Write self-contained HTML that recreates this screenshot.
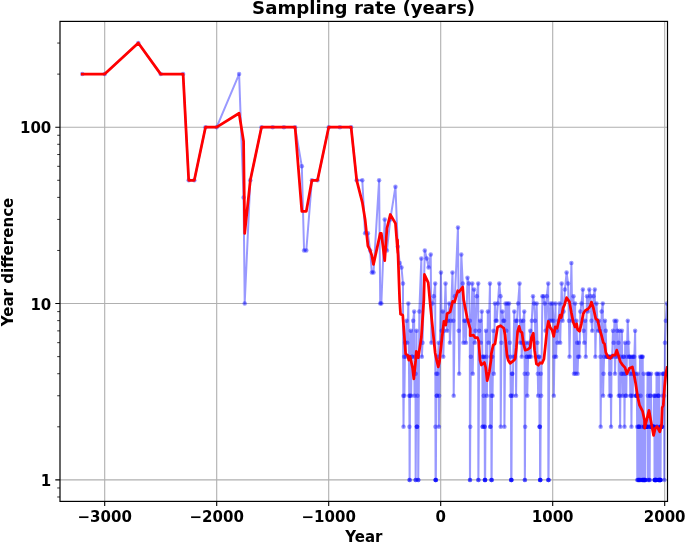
<!DOCTYPE html>
<html><head><meta charset="utf-8"><title>Sampling rate (years)</title>
<style>html,body{margin:0;padding:0;background:#fff;overflow:hidden}body{width:685px;height:542px;position:relative}</style>
</head><body>
<svg width="685" height="542" viewBox="0 0 685 542" style="position:absolute;left:0;top:0;font-family:'DejaVu Sans','Liberation Sans',sans-serif;font-weight:bold">
<rect width="685" height="542" fill="#fff"/>
<defs><clipPath id="c"><rect x="60.0" y="21.4" width="607.5" height="480.0"/></clipPath></defs>
<path d="M104.70 21.4V501.4M216.70 21.4V501.4M328.70 21.4V501.4M440.70 21.4V501.4M552.70 21.4V501.4M664.70 21.4V501.4M60.0 479.90H667.5M60.0 303.55H667.5M60.0 127.20H667.5" stroke="#b0b0b0" stroke-width="1.1" fill="none"/>
<g clip-path="url(#c)">
<polyline points="82.30,74.11 104.70,74.11 138.30,43.06 160.70,74.11 183.10,74.11 188.70,180.29 194.30,180.29 205.50,127.20 216.70,127.20 239.10,74.11 243.58,197.38 244.70,303.55 250.30,180.29 261.50,127.20 272.70,127.20 283.90,127.20 295.10,127.20 301.82,166.32 304.06,250.46 306.30,250.46 311.90,180.29 317.50,180.29 328.70,127.20 339.90,127.20 351.10,127.20 356.70,180.29 362.30,180.29 365.10,233.37 367.90,233.37 370.14,250.46 371.82,272.50 373.50,272.50 379.10,180.29 380.22,303.55 381.34,303.55 384.70,219.41 386.94,250.46 390.30,219.41 395.45,186.67 397.80,246.73 399.71,262.91 401.50,267.55 402.96,283.46 403.29,395.76 403.52,426.81 404.08,356.64 404.41,395.76 405.08,342.67 405.64,356.64 406.54,320.64 407.21,342.67 408.33,303.55 408.89,356.64 409.23,395.76 409.45,426.81 409.56,479.90 409.68,479.90 410.01,395.76 410.80,330.87 411.13,395.76 411.69,356.64 412.25,356.64 413.15,320.64 414.16,311.62 414.49,395.76 415.05,356.64 415.50,373.73 415.61,479.90 415.72,479.90 416.51,330.87 416.73,426.81 416.96,426.81 417.18,426.81 417.52,395.76 418.08,356.64 418.19,479.90 418.30,479.90 419.31,311.62 421.32,258.53 421.88,356.64 422.56,342.67 424.80,250.46 426.81,258.53 428.60,267.55 430.73,254.39 431.40,342.67 432.52,303.55 433.76,296.25 435.21,283.46 435.44,426.81 435.55,479.90 435.66,479.90 435.77,479.90 435.88,479.90 436.33,373.73 436.67,395.76 437.00,395.76 437.45,373.73 438.01,356.64 438.68,342.67 438.91,426.81 439.24,395.76 440.92,272.50 441.71,330.87 442.72,311.62 443.28,356.64 444.06,330.87 445.52,283.46 446.41,320.64 447.20,330.87 448.09,320.64 449.21,303.55 449.88,342.67 450.78,320.64 452.46,272.50 453.36,320.64 453.69,395.76 454.92,296.25 457.95,227.48 458.73,330.87 459.18,373.73 461.31,254.39 462.76,283.46 463.44,342.67 464.33,320.64 465.23,320.64 465.90,342.67 467.47,277.78 468.92,283.46 469.82,320.64 469.93,479.90 470.04,479.90 470.27,426.81 470.83,356.64 472.28,283.46 472.73,373.73 474.08,289.59 474.75,342.67 475.53,330.87 476.76,296.25 478.22,283.46 478.33,479.90 478.44,479.90 479.23,330.87 480.12,320.64 480.80,342.67 481.80,311.62 482.36,356.64 482.59,426.81 482.81,426.81 483.37,356.64 483.71,395.76 484.27,356.64 484.49,426.81 484.72,426.81 484.83,479.90 484.94,479.90 485.05,479.90 485.16,479.90 485.95,330.87 486.51,356.64 486.84,395.76 487.85,311.62 488.52,342.67 489.98,283.46 490.20,426.81 490.43,426.81 490.99,356.64 491.32,395.76 491.44,479.90 491.55,479.90 491.66,479.90 492.22,356.64 492.56,395.76 493.34,330.87 493.79,373.73 494.91,303.55 495.80,320.64 496.70,320.64 497.82,303.55 499.28,283.46 500.51,296.25 500.73,426.81 501.40,342.67 502.41,311.62 503.31,320.64 504.20,320.64 504.43,426.81 505.55,303.55 506.33,330.87 507.45,303.55 508.01,356.64 509.13,303.55 509.80,342.67 510.36,356.64 510.70,395.76 511.04,395.76 511.15,479.90 511.26,479.90 511.37,479.90 511.48,479.90 511.93,373.73 512.38,373.73 512.72,395.76 513.28,356.64 514.28,311.62 514.84,356.64 515.74,320.64 516.08,395.76 516.97,320.64 518.09,303.55 519.55,283.46 520.22,342.67 521.12,320.64 521.68,356.64 522.35,342.67 523.24,320.64 524.25,311.62 524.70,373.73 524.81,479.90 524.92,479.90 525.15,426.81 525.82,342.67 526.38,356.64 526.94,356.64 527.28,395.76 527.72,373.73 528.40,342.67 528.96,356.64 529.52,356.64 530.30,330.87 530.86,356.64 531.76,320.64 532.99,296.25 534.11,303.55 535.00,320.64 535.56,356.64 536.68,303.55 537.36,342.67 537.80,373.73 538.14,395.76 538.70,356.64 539.26,356.64 539.48,426.81 539.71,426.81 539.93,426.81 540.04,479.90 540.16,479.90 540.27,479.90 540.38,479.90 540.83,373.73 541.16,395.76 542.40,296.25 543.63,296.25 544.75,303.55 545.53,330.87 546.76,296.25 548.22,283.46 548.33,479.90 548.44,479.90 548.56,479.90 549.45,320.64 550.57,303.55 551.47,320.64 552.59,303.55 553.48,320.64 553.82,395.76 554.38,356.64 555.50,303.55 556.06,356.64 556.84,330.87 557.52,342.67 558.41,320.64 559.53,303.55 560.20,342.67 561.66,283.46 562.56,320.64 563.56,311.62 564.91,289.59 566.59,272.50 568.04,283.46 568.94,320.64 569.50,356.64 571.40,262.91 572.30,320.64 573.53,296.25 573.98,373.73 575.10,303.55 575.55,373.73 576.44,320.64 577.12,342.67 577.56,373.73 578.12,356.64 578.80,342.67 579.36,356.64 580.36,311.62 581.48,303.55 582.83,289.59 583.61,330.87 584.28,342.67 585.18,320.64 585.74,356.64 586.97,296.25 587.98,311.62 589.32,289.59 590.56,296.25 591.45,320.64 592.24,330.87 593.47,296.25 594.81,289.59 595.37,356.64 596.49,303.55 597.39,320.64 598.17,330.87 599.07,320.64 599.85,330.87 600.41,356.64 600.64,426.81 601.64,311.62 602.76,303.55 603.10,395.76 603.55,373.73 604.11,356.64 605.00,320.64 605.79,330.87 606.35,356.64 606.91,356.64 607.47,356.64 608.03,356.64 608.59,356.64 609.15,356.64 609.48,395.76 609.93,373.73 610.49,356.64 610.83,395.76 611.05,426.81 611.61,356.64 612.17,356.64 612.96,330.87 613.63,342.67 614.52,320.64 614.97,373.73 615.53,356.64 616.43,320.64 617.21,330.87 617.77,356.64 618.44,342.67 618.78,395.76 619.56,330.87 619.90,395.76 620.12,426.81 620.68,356.64 621.13,373.73 621.92,330.87 622.36,373.73 622.70,395.76 623.26,356.64 623.82,356.64 624.27,373.73 624.49,426.81 625.16,342.67 625.50,395.76 625.95,373.73 626.28,395.76 626.84,356.64 627.74,320.64 628.41,342.67 628.97,356.64 629.53,356.64 629.98,373.73 630.32,395.76 630.88,356.64 631.21,395.76 631.44,426.81 631.88,373.73 632.44,356.64 632.78,395.76 633.34,356.64 633.79,373.73 634.35,356.64 635.13,330.87 635.58,373.73 635.92,395.76 636.25,395.76 636.59,395.76 636.92,395.76 637.15,426.81 637.26,479.90 637.71,373.73 637.82,479.90 638.16,395.76 638.38,426.81 638.49,479.90 638.72,426.81 638.83,479.90 639.05,426.81 639.16,479.90 639.28,479.90 639.50,426.81 640.06,356.64 640.17,479.90 640.28,479.90 640.62,395.76 641.18,356.64 641.40,426.81 641.52,479.90 642.08,356.64 642.19,479.90 642.75,356.64 642.86,479.90 642.97,479.90 643.08,479.90 643.20,479.90 643.64,373.73 643.76,479.90 643.98,426.81 644.20,426.81 644.32,479.90 644.54,426.81 644.65,479.90 644.76,479.90 644.88,479.90 645.10,426.81 645.21,479.90 645.32,479.90 645.55,426.81 645.77,426.81 646.00,426.81 646.22,426.81 646.44,426.81 646.67,426.81 646.89,426.81 647.12,426.81 647.56,373.73 647.90,395.76 648.01,479.90 648.46,373.73 648.57,479.90 648.80,426.81 649.24,373.73 649.36,479.90 649.58,426.81 649.69,479.90 650.03,395.76 650.36,395.76 650.59,426.81 651.04,373.73 651.26,426.81 651.48,426.81 651.71,426.81 651.93,426.81 652.16,426.81 652.38,426.81 652.60,426.81 652.83,426.81 653.05,426.81 653.28,426.81 653.50,426.81 653.72,426.81 654.06,395.76 654.40,395.76 654.51,479.90 654.62,479.90 654.84,426.81 654.96,479.90 655.07,479.90 655.18,479.90 655.29,479.90 655.40,479.90 655.74,395.76 655.85,479.90 655.96,479.90 656.08,479.90 656.52,373.73 656.64,479.90 656.86,426.81 657.08,426.81 657.53,373.73 657.87,395.76 658.20,395.76 658.32,479.90 658.43,479.90 658.54,479.90 658.88,395.76 659.32,373.73 659.44,479.90 659.55,479.90 659.66,479.90 659.77,479.90 659.88,479.90 660.11,426.81 660.22,479.90 660.33,479.90 660.44,479.90 660.56,479.90 660.78,426.81 661.00,426.81 661.23,426.81 661.45,426.81 661.68,426.81 661.90,426.81 662.12,426.81 662.57,373.73 662.91,395.76 663.36,373.73 663.80,373.73 664.14,395.76 664.25,479.90 664.92,342.67 665.82,320.64 666.94,303.55" fill="none" stroke="#0000ff" stroke-opacity="0.4" stroke-width="2.0" stroke-linejoin="round"/>
<g fill="#0000ff" fill-opacity="0.4">
<circle cx="82.30" cy="74.11" r="2.25"/>
<circle cx="104.70" cy="74.11" r="2.25"/>
<circle cx="138.30" cy="43.06" r="2.25"/>
<circle cx="160.70" cy="74.11" r="2.25"/>
<circle cx="183.10" cy="74.11" r="2.25"/>
<circle cx="188.70" cy="180.29" r="2.25"/>
<circle cx="194.30" cy="180.29" r="2.25"/>
<circle cx="205.50" cy="127.20" r="2.25"/>
<circle cx="216.70" cy="127.20" r="2.25"/>
<circle cx="239.10" cy="74.11" r="2.25"/>
<circle cx="243.58" cy="197.38" r="2.25"/>
<circle cx="244.70" cy="303.55" r="2.25"/>
<circle cx="250.30" cy="180.29" r="2.25"/>
<circle cx="261.50" cy="127.20" r="2.25"/>
<circle cx="272.70" cy="127.20" r="2.25"/>
<circle cx="283.90" cy="127.20" r="2.25"/>
<circle cx="295.10" cy="127.20" r="2.25"/>
<circle cx="301.82" cy="166.32" r="2.25"/>
<circle cx="304.06" cy="250.46" r="2.25"/>
<circle cx="306.30" cy="250.46" r="2.25"/>
<circle cx="311.90" cy="180.29" r="2.25"/>
<circle cx="317.50" cy="180.29" r="2.25"/>
<circle cx="328.70" cy="127.20" r="2.25"/>
<circle cx="339.90" cy="127.20" r="2.25"/>
<circle cx="351.10" cy="127.20" r="2.25"/>
<circle cx="356.70" cy="180.29" r="2.25"/>
<circle cx="362.30" cy="180.29" r="2.25"/>
<circle cx="365.10" cy="233.37" r="2.25"/>
<circle cx="367.90" cy="233.37" r="2.25"/>
<circle cx="370.14" cy="250.46" r="2.25"/>
<circle cx="371.82" cy="272.50" r="2.25"/>
<circle cx="373.50" cy="272.50" r="2.25"/>
<circle cx="379.10" cy="180.29" r="2.25"/>
<circle cx="380.22" cy="303.55" r="2.25"/>
<circle cx="381.34" cy="303.55" r="2.25"/>
<circle cx="384.70" cy="219.41" r="2.25"/>
<circle cx="386.94" cy="250.46" r="2.25"/>
<circle cx="390.30" cy="219.41" r="2.25"/>
<circle cx="395.45" cy="186.67" r="2.25"/>
<circle cx="397.80" cy="246.73" r="2.25"/>
<circle cx="399.71" cy="262.91" r="2.25"/>
<circle cx="401.50" cy="267.55" r="2.25"/>
<circle cx="402.96" cy="283.46" r="2.25"/>
<circle cx="403.29" cy="395.76" r="2.25"/>
<circle cx="403.52" cy="426.81" r="2.25"/>
<circle cx="404.08" cy="356.64" r="2.25"/>
<circle cx="404.41" cy="395.76" r="2.25"/>
<circle cx="405.08" cy="342.67" r="2.25"/>
<circle cx="405.64" cy="356.64" r="2.25"/>
<circle cx="406.54" cy="320.64" r="2.25"/>
<circle cx="407.21" cy="342.67" r="2.25"/>
<circle cx="408.33" cy="303.55" r="2.25"/>
<circle cx="408.89" cy="356.64" r="2.25"/>
<circle cx="409.23" cy="395.76" r="2.25"/>
<circle cx="409.45" cy="426.81" r="2.25"/>
<circle cx="409.56" cy="479.90" r="2.25"/>
<circle cx="409.68" cy="479.90" r="2.25"/>
<circle cx="410.01" cy="395.76" r="2.25"/>
<circle cx="410.80" cy="330.87" r="2.25"/>
<circle cx="411.13" cy="395.76" r="2.25"/>
<circle cx="411.69" cy="356.64" r="2.25"/>
<circle cx="412.25" cy="356.64" r="2.25"/>
<circle cx="413.15" cy="320.64" r="2.25"/>
<circle cx="414.16" cy="311.62" r="2.25"/>
<circle cx="414.49" cy="395.76" r="2.25"/>
<circle cx="415.05" cy="356.64" r="2.25"/>
<circle cx="415.50" cy="373.73" r="2.25"/>
<circle cx="415.61" cy="479.90" r="2.25"/>
<circle cx="415.72" cy="479.90" r="2.25"/>
<circle cx="416.51" cy="330.87" r="2.25"/>
<circle cx="416.73" cy="426.81" r="2.25"/>
<circle cx="416.96" cy="426.81" r="2.25"/>
<circle cx="417.18" cy="426.81" r="2.25"/>
<circle cx="417.52" cy="395.76" r="2.25"/>
<circle cx="418.08" cy="356.64" r="2.25"/>
<circle cx="418.19" cy="479.90" r="2.25"/>
<circle cx="418.30" cy="479.90" r="2.25"/>
<circle cx="419.31" cy="311.62" r="2.25"/>
<circle cx="421.32" cy="258.53" r="2.25"/>
<circle cx="421.88" cy="356.64" r="2.25"/>
<circle cx="422.56" cy="342.67" r="2.25"/>
<circle cx="424.80" cy="250.46" r="2.25"/>
<circle cx="426.81" cy="258.53" r="2.25"/>
<circle cx="428.60" cy="267.55" r="2.25"/>
<circle cx="430.73" cy="254.39" r="2.25"/>
<circle cx="431.40" cy="342.67" r="2.25"/>
<circle cx="432.52" cy="303.55" r="2.25"/>
<circle cx="433.76" cy="296.25" r="2.25"/>
<circle cx="435.21" cy="283.46" r="2.25"/>
<circle cx="435.44" cy="426.81" r="2.25"/>
<circle cx="435.55" cy="479.90" r="2.25"/>
<circle cx="435.66" cy="479.90" r="2.25"/>
<circle cx="435.77" cy="479.90" r="2.25"/>
<circle cx="435.88" cy="479.90" r="2.25"/>
<circle cx="436.33" cy="373.73" r="2.25"/>
<circle cx="436.67" cy="395.76" r="2.25"/>
<circle cx="437.00" cy="395.76" r="2.25"/>
<circle cx="437.45" cy="373.73" r="2.25"/>
<circle cx="438.01" cy="356.64" r="2.25"/>
<circle cx="438.68" cy="342.67" r="2.25"/>
<circle cx="438.91" cy="426.81" r="2.25"/>
<circle cx="439.24" cy="395.76" r="2.25"/>
<circle cx="440.92" cy="272.50" r="2.25"/>
<circle cx="441.71" cy="330.87" r="2.25"/>
<circle cx="442.72" cy="311.62" r="2.25"/>
<circle cx="443.28" cy="356.64" r="2.25"/>
<circle cx="444.06" cy="330.87" r="2.25"/>
<circle cx="445.52" cy="283.46" r="2.25"/>
<circle cx="446.41" cy="320.64" r="2.25"/>
<circle cx="447.20" cy="330.87" r="2.25"/>
<circle cx="448.09" cy="320.64" r="2.25"/>
<circle cx="449.21" cy="303.55" r="2.25"/>
<circle cx="449.88" cy="342.67" r="2.25"/>
<circle cx="450.78" cy="320.64" r="2.25"/>
<circle cx="452.46" cy="272.50" r="2.25"/>
<circle cx="453.36" cy="320.64" r="2.25"/>
<circle cx="453.69" cy="395.76" r="2.25"/>
<circle cx="454.92" cy="296.25" r="2.25"/>
<circle cx="457.95" cy="227.48" r="2.25"/>
<circle cx="458.73" cy="330.87" r="2.25"/>
<circle cx="459.18" cy="373.73" r="2.25"/>
<circle cx="461.31" cy="254.39" r="2.25"/>
<circle cx="462.76" cy="283.46" r="2.25"/>
<circle cx="463.44" cy="342.67" r="2.25"/>
<circle cx="464.33" cy="320.64" r="2.25"/>
<circle cx="465.23" cy="320.64" r="2.25"/>
<circle cx="465.90" cy="342.67" r="2.25"/>
<circle cx="467.47" cy="277.78" r="2.25"/>
<circle cx="468.92" cy="283.46" r="2.25"/>
<circle cx="469.82" cy="320.64" r="2.25"/>
<circle cx="469.93" cy="479.90" r="2.25"/>
<circle cx="470.04" cy="479.90" r="2.25"/>
<circle cx="470.27" cy="426.81" r="2.25"/>
<circle cx="470.83" cy="356.64" r="2.25"/>
<circle cx="472.28" cy="283.46" r="2.25"/>
<circle cx="472.73" cy="373.73" r="2.25"/>
<circle cx="474.08" cy="289.59" r="2.25"/>
<circle cx="474.75" cy="342.67" r="2.25"/>
<circle cx="475.53" cy="330.87" r="2.25"/>
<circle cx="476.76" cy="296.25" r="2.25"/>
<circle cx="478.22" cy="283.46" r="2.25"/>
<circle cx="478.33" cy="479.90" r="2.25"/>
<circle cx="478.44" cy="479.90" r="2.25"/>
<circle cx="479.23" cy="330.87" r="2.25"/>
<circle cx="480.12" cy="320.64" r="2.25"/>
<circle cx="480.80" cy="342.67" r="2.25"/>
<circle cx="481.80" cy="311.62" r="2.25"/>
<circle cx="482.36" cy="356.64" r="2.25"/>
<circle cx="482.59" cy="426.81" r="2.25"/>
<circle cx="482.81" cy="426.81" r="2.25"/>
<circle cx="483.37" cy="356.64" r="2.25"/>
<circle cx="483.71" cy="395.76" r="2.25"/>
<circle cx="484.27" cy="356.64" r="2.25"/>
<circle cx="484.49" cy="426.81" r="2.25"/>
<circle cx="484.72" cy="426.81" r="2.25"/>
<circle cx="484.83" cy="479.90" r="2.25"/>
<circle cx="484.94" cy="479.90" r="2.25"/>
<circle cx="485.05" cy="479.90" r="2.25"/>
<circle cx="485.16" cy="479.90" r="2.25"/>
<circle cx="485.95" cy="330.87" r="2.25"/>
<circle cx="486.51" cy="356.64" r="2.25"/>
<circle cx="486.84" cy="395.76" r="2.25"/>
<circle cx="487.85" cy="311.62" r="2.25"/>
<circle cx="488.52" cy="342.67" r="2.25"/>
<circle cx="489.98" cy="283.46" r="2.25"/>
<circle cx="490.20" cy="426.81" r="2.25"/>
<circle cx="490.43" cy="426.81" r="2.25"/>
<circle cx="490.99" cy="356.64" r="2.25"/>
<circle cx="491.32" cy="395.76" r="2.25"/>
<circle cx="491.44" cy="479.90" r="2.25"/>
<circle cx="491.55" cy="479.90" r="2.25"/>
<circle cx="491.66" cy="479.90" r="2.25"/>
<circle cx="492.22" cy="356.64" r="2.25"/>
<circle cx="492.56" cy="395.76" r="2.25"/>
<circle cx="493.34" cy="330.87" r="2.25"/>
<circle cx="493.79" cy="373.73" r="2.25"/>
<circle cx="494.91" cy="303.55" r="2.25"/>
<circle cx="495.80" cy="320.64" r="2.25"/>
<circle cx="496.70" cy="320.64" r="2.25"/>
<circle cx="497.82" cy="303.55" r="2.25"/>
<circle cx="499.28" cy="283.46" r="2.25"/>
<circle cx="500.51" cy="296.25" r="2.25"/>
<circle cx="500.73" cy="426.81" r="2.25"/>
<circle cx="501.40" cy="342.67" r="2.25"/>
<circle cx="502.41" cy="311.62" r="2.25"/>
<circle cx="503.31" cy="320.64" r="2.25"/>
<circle cx="504.20" cy="320.64" r="2.25"/>
<circle cx="504.43" cy="426.81" r="2.25"/>
<circle cx="505.55" cy="303.55" r="2.25"/>
<circle cx="506.33" cy="330.87" r="2.25"/>
<circle cx="507.45" cy="303.55" r="2.25"/>
<circle cx="508.01" cy="356.64" r="2.25"/>
<circle cx="509.13" cy="303.55" r="2.25"/>
<circle cx="509.80" cy="342.67" r="2.25"/>
<circle cx="510.36" cy="356.64" r="2.25"/>
<circle cx="510.70" cy="395.76" r="2.25"/>
<circle cx="511.04" cy="395.76" r="2.25"/>
<circle cx="511.15" cy="479.90" r="2.25"/>
<circle cx="511.26" cy="479.90" r="2.25"/>
<circle cx="511.37" cy="479.90" r="2.25"/>
<circle cx="511.48" cy="479.90" r="2.25"/>
<circle cx="511.93" cy="373.73" r="2.25"/>
<circle cx="512.38" cy="373.73" r="2.25"/>
<circle cx="512.72" cy="395.76" r="2.25"/>
<circle cx="513.28" cy="356.64" r="2.25"/>
<circle cx="514.28" cy="311.62" r="2.25"/>
<circle cx="514.84" cy="356.64" r="2.25"/>
<circle cx="515.74" cy="320.64" r="2.25"/>
<circle cx="516.08" cy="395.76" r="2.25"/>
<circle cx="516.97" cy="320.64" r="2.25"/>
<circle cx="518.09" cy="303.55" r="2.25"/>
<circle cx="519.55" cy="283.46" r="2.25"/>
<circle cx="520.22" cy="342.67" r="2.25"/>
<circle cx="521.12" cy="320.64" r="2.25"/>
<circle cx="521.68" cy="356.64" r="2.25"/>
<circle cx="522.35" cy="342.67" r="2.25"/>
<circle cx="523.24" cy="320.64" r="2.25"/>
<circle cx="524.25" cy="311.62" r="2.25"/>
<circle cx="524.70" cy="373.73" r="2.25"/>
<circle cx="524.81" cy="479.90" r="2.25"/>
<circle cx="524.92" cy="479.90" r="2.25"/>
<circle cx="525.15" cy="426.81" r="2.25"/>
<circle cx="525.82" cy="342.67" r="2.25"/>
<circle cx="526.38" cy="356.64" r="2.25"/>
<circle cx="526.94" cy="356.64" r="2.25"/>
<circle cx="527.28" cy="395.76" r="2.25"/>
<circle cx="527.72" cy="373.73" r="2.25"/>
<circle cx="528.40" cy="342.67" r="2.25"/>
<circle cx="528.96" cy="356.64" r="2.25"/>
<circle cx="529.52" cy="356.64" r="2.25"/>
<circle cx="530.30" cy="330.87" r="2.25"/>
<circle cx="530.86" cy="356.64" r="2.25"/>
<circle cx="531.76" cy="320.64" r="2.25"/>
<circle cx="532.99" cy="296.25" r="2.25"/>
<circle cx="534.11" cy="303.55" r="2.25"/>
<circle cx="535.00" cy="320.64" r="2.25"/>
<circle cx="535.56" cy="356.64" r="2.25"/>
<circle cx="536.68" cy="303.55" r="2.25"/>
<circle cx="537.36" cy="342.67" r="2.25"/>
<circle cx="537.80" cy="373.73" r="2.25"/>
<circle cx="538.14" cy="395.76" r="2.25"/>
<circle cx="538.70" cy="356.64" r="2.25"/>
<circle cx="539.26" cy="356.64" r="2.25"/>
<circle cx="539.48" cy="426.81" r="2.25"/>
<circle cx="539.71" cy="426.81" r="2.25"/>
<circle cx="539.93" cy="426.81" r="2.25"/>
<circle cx="540.04" cy="479.90" r="2.25"/>
<circle cx="540.16" cy="479.90" r="2.25"/>
<circle cx="540.27" cy="479.90" r="2.25"/>
<circle cx="540.38" cy="479.90" r="2.25"/>
<circle cx="540.83" cy="373.73" r="2.25"/>
<circle cx="541.16" cy="395.76" r="2.25"/>
<circle cx="542.40" cy="296.25" r="2.25"/>
<circle cx="543.63" cy="296.25" r="2.25"/>
<circle cx="544.75" cy="303.55" r="2.25"/>
<circle cx="545.53" cy="330.87" r="2.25"/>
<circle cx="546.76" cy="296.25" r="2.25"/>
<circle cx="548.22" cy="283.46" r="2.25"/>
<circle cx="548.33" cy="479.90" r="2.25"/>
<circle cx="548.44" cy="479.90" r="2.25"/>
<circle cx="548.56" cy="479.90" r="2.25"/>
<circle cx="549.45" cy="320.64" r="2.25"/>
<circle cx="550.57" cy="303.55" r="2.25"/>
<circle cx="551.47" cy="320.64" r="2.25"/>
<circle cx="552.59" cy="303.55" r="2.25"/>
<circle cx="553.48" cy="320.64" r="2.25"/>
<circle cx="553.82" cy="395.76" r="2.25"/>
<circle cx="554.38" cy="356.64" r="2.25"/>
<circle cx="555.50" cy="303.55" r="2.25"/>
<circle cx="556.06" cy="356.64" r="2.25"/>
<circle cx="556.84" cy="330.87" r="2.25"/>
<circle cx="557.52" cy="342.67" r="2.25"/>
<circle cx="558.41" cy="320.64" r="2.25"/>
<circle cx="559.53" cy="303.55" r="2.25"/>
<circle cx="560.20" cy="342.67" r="2.25"/>
<circle cx="561.66" cy="283.46" r="2.25"/>
<circle cx="562.56" cy="320.64" r="2.25"/>
<circle cx="563.56" cy="311.62" r="2.25"/>
<circle cx="564.91" cy="289.59" r="2.25"/>
<circle cx="566.59" cy="272.50" r="2.25"/>
<circle cx="568.04" cy="283.46" r="2.25"/>
<circle cx="568.94" cy="320.64" r="2.25"/>
<circle cx="569.50" cy="356.64" r="2.25"/>
<circle cx="571.40" cy="262.91" r="2.25"/>
<circle cx="572.30" cy="320.64" r="2.25"/>
<circle cx="573.53" cy="296.25" r="2.25"/>
<circle cx="573.98" cy="373.73" r="2.25"/>
<circle cx="575.10" cy="303.55" r="2.25"/>
<circle cx="575.55" cy="373.73" r="2.25"/>
<circle cx="576.44" cy="320.64" r="2.25"/>
<circle cx="577.12" cy="342.67" r="2.25"/>
<circle cx="577.56" cy="373.73" r="2.25"/>
<circle cx="578.12" cy="356.64" r="2.25"/>
<circle cx="578.80" cy="342.67" r="2.25"/>
<circle cx="579.36" cy="356.64" r="2.25"/>
<circle cx="580.36" cy="311.62" r="2.25"/>
<circle cx="581.48" cy="303.55" r="2.25"/>
<circle cx="582.83" cy="289.59" r="2.25"/>
<circle cx="583.61" cy="330.87" r="2.25"/>
<circle cx="584.28" cy="342.67" r="2.25"/>
<circle cx="585.18" cy="320.64" r="2.25"/>
<circle cx="585.74" cy="356.64" r="2.25"/>
<circle cx="586.97" cy="296.25" r="2.25"/>
<circle cx="587.98" cy="311.62" r="2.25"/>
<circle cx="589.32" cy="289.59" r="2.25"/>
<circle cx="590.56" cy="296.25" r="2.25"/>
<circle cx="591.45" cy="320.64" r="2.25"/>
<circle cx="592.24" cy="330.87" r="2.25"/>
<circle cx="593.47" cy="296.25" r="2.25"/>
<circle cx="594.81" cy="289.59" r="2.25"/>
<circle cx="595.37" cy="356.64" r="2.25"/>
<circle cx="596.49" cy="303.55" r="2.25"/>
<circle cx="597.39" cy="320.64" r="2.25"/>
<circle cx="598.17" cy="330.87" r="2.25"/>
<circle cx="599.07" cy="320.64" r="2.25"/>
<circle cx="599.85" cy="330.87" r="2.25"/>
<circle cx="600.41" cy="356.64" r="2.25"/>
<circle cx="600.64" cy="426.81" r="2.25"/>
<circle cx="601.64" cy="311.62" r="2.25"/>
<circle cx="602.76" cy="303.55" r="2.25"/>
<circle cx="603.10" cy="395.76" r="2.25"/>
<circle cx="603.55" cy="373.73" r="2.25"/>
<circle cx="604.11" cy="356.64" r="2.25"/>
<circle cx="605.00" cy="320.64" r="2.25"/>
<circle cx="605.79" cy="330.87" r="2.25"/>
<circle cx="606.35" cy="356.64" r="2.25"/>
<circle cx="606.91" cy="356.64" r="2.25"/>
<circle cx="607.47" cy="356.64" r="2.25"/>
<circle cx="608.03" cy="356.64" r="2.25"/>
<circle cx="608.59" cy="356.64" r="2.25"/>
<circle cx="609.15" cy="356.64" r="2.25"/>
<circle cx="609.48" cy="395.76" r="2.25"/>
<circle cx="609.93" cy="373.73" r="2.25"/>
<circle cx="610.49" cy="356.64" r="2.25"/>
<circle cx="610.83" cy="395.76" r="2.25"/>
<circle cx="611.05" cy="426.81" r="2.25"/>
<circle cx="611.61" cy="356.64" r="2.25"/>
<circle cx="612.17" cy="356.64" r="2.25"/>
<circle cx="612.96" cy="330.87" r="2.25"/>
<circle cx="613.63" cy="342.67" r="2.25"/>
<circle cx="614.52" cy="320.64" r="2.25"/>
<circle cx="614.97" cy="373.73" r="2.25"/>
<circle cx="615.53" cy="356.64" r="2.25"/>
<circle cx="616.43" cy="320.64" r="2.25"/>
<circle cx="617.21" cy="330.87" r="2.25"/>
<circle cx="617.77" cy="356.64" r="2.25"/>
<circle cx="618.44" cy="342.67" r="2.25"/>
<circle cx="618.78" cy="395.76" r="2.25"/>
<circle cx="619.56" cy="330.87" r="2.25"/>
<circle cx="619.90" cy="395.76" r="2.25"/>
<circle cx="620.12" cy="426.81" r="2.25"/>
<circle cx="620.68" cy="356.64" r="2.25"/>
<circle cx="621.13" cy="373.73" r="2.25"/>
<circle cx="621.92" cy="330.87" r="2.25"/>
<circle cx="622.36" cy="373.73" r="2.25"/>
<circle cx="622.70" cy="395.76" r="2.25"/>
<circle cx="623.26" cy="356.64" r="2.25"/>
<circle cx="623.82" cy="356.64" r="2.25"/>
<circle cx="624.27" cy="373.73" r="2.25"/>
<circle cx="624.49" cy="426.81" r="2.25"/>
<circle cx="625.16" cy="342.67" r="2.25"/>
<circle cx="625.50" cy="395.76" r="2.25"/>
<circle cx="625.95" cy="373.73" r="2.25"/>
<circle cx="626.28" cy="395.76" r="2.25"/>
<circle cx="626.84" cy="356.64" r="2.25"/>
<circle cx="627.74" cy="320.64" r="2.25"/>
<circle cx="628.41" cy="342.67" r="2.25"/>
<circle cx="628.97" cy="356.64" r="2.25"/>
<circle cx="629.53" cy="356.64" r="2.25"/>
<circle cx="629.98" cy="373.73" r="2.25"/>
<circle cx="630.32" cy="395.76" r="2.25"/>
<circle cx="630.88" cy="356.64" r="2.25"/>
<circle cx="631.21" cy="395.76" r="2.25"/>
<circle cx="631.44" cy="426.81" r="2.25"/>
<circle cx="631.88" cy="373.73" r="2.25"/>
<circle cx="632.44" cy="356.64" r="2.25"/>
<circle cx="632.78" cy="395.76" r="2.25"/>
<circle cx="633.34" cy="356.64" r="2.25"/>
<circle cx="633.79" cy="373.73" r="2.25"/>
<circle cx="634.35" cy="356.64" r="2.25"/>
<circle cx="635.13" cy="330.87" r="2.25"/>
<circle cx="635.58" cy="373.73" r="2.25"/>
<circle cx="635.92" cy="395.76" r="2.25"/>
<circle cx="636.25" cy="395.76" r="2.25"/>
<circle cx="636.59" cy="395.76" r="2.25"/>
<circle cx="636.92" cy="395.76" r="2.25"/>
<circle cx="637.15" cy="426.81" r="2.25"/>
<circle cx="637.26" cy="479.90" r="2.25"/>
<circle cx="637.71" cy="373.73" r="2.25"/>
<circle cx="637.82" cy="479.90" r="2.25"/>
<circle cx="638.16" cy="395.76" r="2.25"/>
<circle cx="638.38" cy="426.81" r="2.25"/>
<circle cx="638.49" cy="479.90" r="2.25"/>
<circle cx="638.72" cy="426.81" r="2.25"/>
<circle cx="638.83" cy="479.90" r="2.25"/>
<circle cx="639.05" cy="426.81" r="2.25"/>
<circle cx="639.16" cy="479.90" r="2.25"/>
<circle cx="639.28" cy="479.90" r="2.25"/>
<circle cx="639.50" cy="426.81" r="2.25"/>
<circle cx="640.06" cy="356.64" r="2.25"/>
<circle cx="640.17" cy="479.90" r="2.25"/>
<circle cx="640.28" cy="479.90" r="2.25"/>
<circle cx="640.62" cy="395.76" r="2.25"/>
<circle cx="641.18" cy="356.64" r="2.25"/>
<circle cx="641.40" cy="426.81" r="2.25"/>
<circle cx="641.52" cy="479.90" r="2.25"/>
<circle cx="642.08" cy="356.64" r="2.25"/>
<circle cx="642.19" cy="479.90" r="2.25"/>
<circle cx="642.75" cy="356.64" r="2.25"/>
<circle cx="642.86" cy="479.90" r="2.25"/>
<circle cx="642.97" cy="479.90" r="2.25"/>
<circle cx="643.08" cy="479.90" r="2.25"/>
<circle cx="643.20" cy="479.90" r="2.25"/>
<circle cx="643.64" cy="373.73" r="2.25"/>
<circle cx="643.76" cy="479.90" r="2.25"/>
<circle cx="643.98" cy="426.81" r="2.25"/>
<circle cx="644.20" cy="426.81" r="2.25"/>
<circle cx="644.32" cy="479.90" r="2.25"/>
<circle cx="644.54" cy="426.81" r="2.25"/>
<circle cx="644.65" cy="479.90" r="2.25"/>
<circle cx="644.76" cy="479.90" r="2.25"/>
<circle cx="644.88" cy="479.90" r="2.25"/>
<circle cx="645.10" cy="426.81" r="2.25"/>
<circle cx="645.21" cy="479.90" r="2.25"/>
<circle cx="645.32" cy="479.90" r="2.25"/>
<circle cx="645.55" cy="426.81" r="2.25"/>
<circle cx="645.77" cy="426.81" r="2.25"/>
<circle cx="646.00" cy="426.81" r="2.25"/>
<circle cx="646.22" cy="426.81" r="2.25"/>
<circle cx="646.44" cy="426.81" r="2.25"/>
<circle cx="646.67" cy="426.81" r="2.25"/>
<circle cx="646.89" cy="426.81" r="2.25"/>
<circle cx="647.12" cy="426.81" r="2.25"/>
<circle cx="647.56" cy="373.73" r="2.25"/>
<circle cx="647.90" cy="395.76" r="2.25"/>
<circle cx="648.01" cy="479.90" r="2.25"/>
<circle cx="648.46" cy="373.73" r="2.25"/>
<circle cx="648.57" cy="479.90" r="2.25"/>
<circle cx="648.80" cy="426.81" r="2.25"/>
<circle cx="649.24" cy="373.73" r="2.25"/>
<circle cx="649.36" cy="479.90" r="2.25"/>
<circle cx="649.58" cy="426.81" r="2.25"/>
<circle cx="649.69" cy="479.90" r="2.25"/>
<circle cx="650.03" cy="395.76" r="2.25"/>
<circle cx="650.36" cy="395.76" r="2.25"/>
<circle cx="650.59" cy="426.81" r="2.25"/>
<circle cx="651.04" cy="373.73" r="2.25"/>
<circle cx="651.26" cy="426.81" r="2.25"/>
<circle cx="651.48" cy="426.81" r="2.25"/>
<circle cx="651.71" cy="426.81" r="2.25"/>
<circle cx="651.93" cy="426.81" r="2.25"/>
<circle cx="652.16" cy="426.81" r="2.25"/>
<circle cx="652.38" cy="426.81" r="2.25"/>
<circle cx="652.60" cy="426.81" r="2.25"/>
<circle cx="652.83" cy="426.81" r="2.25"/>
<circle cx="653.05" cy="426.81" r="2.25"/>
<circle cx="653.28" cy="426.81" r="2.25"/>
<circle cx="653.50" cy="426.81" r="2.25"/>
<circle cx="653.72" cy="426.81" r="2.25"/>
<circle cx="654.06" cy="395.76" r="2.25"/>
<circle cx="654.40" cy="395.76" r="2.25"/>
<circle cx="654.51" cy="479.90" r="2.25"/>
<circle cx="654.62" cy="479.90" r="2.25"/>
<circle cx="654.84" cy="426.81" r="2.25"/>
<circle cx="654.96" cy="479.90" r="2.25"/>
<circle cx="655.07" cy="479.90" r="2.25"/>
<circle cx="655.18" cy="479.90" r="2.25"/>
<circle cx="655.29" cy="479.90" r="2.25"/>
<circle cx="655.40" cy="479.90" r="2.25"/>
<circle cx="655.74" cy="395.76" r="2.25"/>
<circle cx="655.85" cy="479.90" r="2.25"/>
<circle cx="655.96" cy="479.90" r="2.25"/>
<circle cx="656.08" cy="479.90" r="2.25"/>
<circle cx="656.52" cy="373.73" r="2.25"/>
<circle cx="656.64" cy="479.90" r="2.25"/>
<circle cx="656.86" cy="426.81" r="2.25"/>
<circle cx="657.08" cy="426.81" r="2.25"/>
<circle cx="657.53" cy="373.73" r="2.25"/>
<circle cx="657.87" cy="395.76" r="2.25"/>
<circle cx="658.20" cy="395.76" r="2.25"/>
<circle cx="658.32" cy="479.90" r="2.25"/>
<circle cx="658.43" cy="479.90" r="2.25"/>
<circle cx="658.54" cy="479.90" r="2.25"/>
<circle cx="658.88" cy="395.76" r="2.25"/>
<circle cx="659.32" cy="373.73" r="2.25"/>
<circle cx="659.44" cy="479.90" r="2.25"/>
<circle cx="659.55" cy="479.90" r="2.25"/>
<circle cx="659.66" cy="479.90" r="2.25"/>
<circle cx="659.77" cy="479.90" r="2.25"/>
<circle cx="659.88" cy="479.90" r="2.25"/>
<circle cx="660.11" cy="426.81" r="2.25"/>
<circle cx="660.22" cy="479.90" r="2.25"/>
<circle cx="660.33" cy="479.90" r="2.25"/>
<circle cx="660.44" cy="479.90" r="2.25"/>
<circle cx="660.56" cy="479.90" r="2.25"/>
<circle cx="660.78" cy="426.81" r="2.25"/>
<circle cx="661.00" cy="426.81" r="2.25"/>
<circle cx="661.23" cy="426.81" r="2.25"/>
<circle cx="661.45" cy="426.81" r="2.25"/>
<circle cx="661.68" cy="426.81" r="2.25"/>
<circle cx="661.90" cy="426.81" r="2.25"/>
<circle cx="662.12" cy="426.81" r="2.25"/>
<circle cx="662.57" cy="373.73" r="2.25"/>
<circle cx="662.91" cy="395.76" r="2.25"/>
<circle cx="663.36" cy="373.73" r="2.25"/>
<circle cx="663.80" cy="373.73" r="2.25"/>
<circle cx="664.14" cy="395.76" r="2.25"/>
<circle cx="664.25" cy="479.90" r="2.25"/>
<circle cx="664.92" cy="342.67" r="2.25"/>
<circle cx="665.82" cy="320.64" r="2.25"/>
<circle cx="666.94" cy="303.55" r="2.25"/>
</g>
<polyline points="82.30,74.11 104.70,74.11 138.30,43.06 160.70,74.11 183.10,74.11 188.70,180.29 194.30,180.29 205.50,127.20 216.70,127.20 239.10,113.24 243.58,141.16 244.70,233.37 250.30,180.29 261.50,127.20 272.70,127.20 283.90,127.20 295.10,127.20 301.82,211.34 304.06,211.34 306.30,211.34 311.90,180.29 317.50,180.29 328.70,127.20 339.90,127.20 351.10,127.20 356.70,180.29 362.30,202.32 365.10,219.41 367.90,245.82 370.14,250.46 371.82,255.41 373.50,264.43 379.10,238.66 380.22,233.37 381.34,233.37 384.70,260.69 386.94,228.43 390.30,214.47 395.45,223.34 397.80,253.06 397.51,240.00 399.64,300.00 400.52,314.04 402.77,315.29 405.66,353.91 407.54,355.16 408.79,360.18 410.04,356.42 412.55,367.70 413.81,378.81 415.69,360.18 416.31,351.40 418.19,357.67 421.33,337.61 423.83,300.00 424.46,274.48 428.22,282.63 430.30,305.00 435.12,352.65 436.37,358.92 438.25,366.90 439.51,361.43 442.01,337.61 443.89,321.31 445.77,325.07 447.03,313.79 450.16,311.91 452.67,301.43 454.55,302.06 457.68,290.77 458.94,292.03 462.70,287.01 463.70,300.00 467.09,317.55 470.22,328.83 470.22,335.73 473.36,335.10 475.00,337.61 477.51,337.61 478.76,341.37 480.01,360.18 481.30,365.00 484.40,362.50 485.70,367.50 487.20,380.70 489.40,371.30 491.00,360.00 491.30,353.91 493.18,345.13 495.06,343.88 496.31,335.10 497.57,326.95 500.70,325.70 503.83,328.21 505.09,335.10 506.97,355.16 508.22,360.18 510.10,363.31 512.61,361.43 515.12,358.92 516.37,347.64 517.63,331.34 519.13,326.33 520.38,331.34 522.01,332.60 523.27,342.63 525.15,350.15 527.65,349.52 530.16,347.64 531.42,337.61 533.30,333.22 534.55,350.15 536.43,363.94 538.31,365.19 540.19,362.68 542.07,363.31 543.95,358.92 545.21,347.64 547.09,328.83 548.34,321.31 550.22,327.58 552.10,330.09 553.73,336.36 555.24,326.95 557.12,328.21 560.00,315.04 561.31,317.55 563.19,307.52 564.45,305.01 566.58,297.67 569.46,301.88 571.34,312.54 573.22,321.94 575.10,326.95 576.61,323.82 577.61,329.46 579.49,331.34 581.37,323.82 583.25,313.79 585.13,310.66 588.27,308.78 590.15,306.27 591.40,302.06 593.28,307.52 595.79,318.81 597.67,320.06 599.55,328.83 601.43,335.10 603.31,342.63 604.56,343.88 605.82,352.65 608.33,357.67 610.21,358.30 612.71,355.16 615.22,355.16 616.73,350.15 618.36,355.16 620.24,361.43 622.74,365.19 625.00,367.70 626.95,373.81 629.46,368.16 632.35,366.91 633.85,373.81 635.73,383.83 637.61,396.37 639.49,405.15 642.63,411.42 644.51,420.19 644.70,428.20 646.80,419.50 649.00,410.30 650.80,420.50 653.60,435.40 655.30,428.10 657.00,426.40 659.80,431.80 661.50,425.50 662.20,407.70 663.30,405.20 664.60,386.30 665.80,373.80 667.10,367.50" fill="none" stroke="#ff0000" stroke-width="2.75" stroke-linejoin="round" stroke-linecap="square"/>
</g>
<path d="M104.70 501.4v4.7M216.70 501.4v4.7M328.70 501.4v4.7M440.70 501.4v4.7M552.70 501.4v4.7M664.70 501.4v4.7M60.0 479.90h-4.7M60.0 303.55h-4.7M60.0 127.20h-4.7" stroke="#000" stroke-width="1.1" fill="none"/>
<path d="M60.0 496.99h-2.8M60.0 487.97h-2.8M60.0 426.81h-2.8M60.0 395.76h-2.8M60.0 373.73h-2.8M60.0 356.64h-2.8M60.0 342.67h-2.8M60.0 330.87h-2.8M60.0 320.64h-2.8M60.0 311.62h-2.8M60.0 250.46h-2.8M60.0 219.41h-2.8M60.0 197.38h-2.8M60.0 180.29h-2.8M60.0 166.32h-2.8M60.0 154.52h-2.8M60.0 144.29h-2.8M60.0 135.27h-2.8M60.0 74.11h-2.8M60.0 43.06h-2.8" stroke="#000" stroke-width="0.8" fill="none"/>
<rect x="60.0" y="21.4" width="607.5" height="480.0" fill="none" stroke="#000" stroke-width="1.2"/>
<text x="104.70" y="522.3" font-size="15" text-anchor="middle">−3000</text>
<text x="216.70" y="522.3" font-size="15" text-anchor="middle">−2000</text>
<text x="328.70" y="522.3" font-size="15" text-anchor="middle">−1000</text>
<text x="440.70" y="522.3" font-size="15" text-anchor="middle">0</text>
<text x="552.70" y="522.3" font-size="15" text-anchor="middle">1000</text>
<text x="664.70" y="522.3" font-size="15" text-anchor="middle">2000</text>
<text x="51.3" y="485.90" font-size="15" text-anchor="end">1</text>
<text x="51.3" y="309.55" font-size="15" text-anchor="end">10</text>
<text x="51.3" y="133.20" font-size="15" text-anchor="end">100</text>
<text x="363.9" y="541.6" font-size="15" text-anchor="middle">Year</text>
<text transform="translate(12.5,262) rotate(-90)" font-size="15.1" text-anchor="middle">Year difference</text>
<text x="363.6" y="13.7" font-size="18.15" text-anchor="middle">Sampling rate (years)</text>
</svg>
</body></html>
